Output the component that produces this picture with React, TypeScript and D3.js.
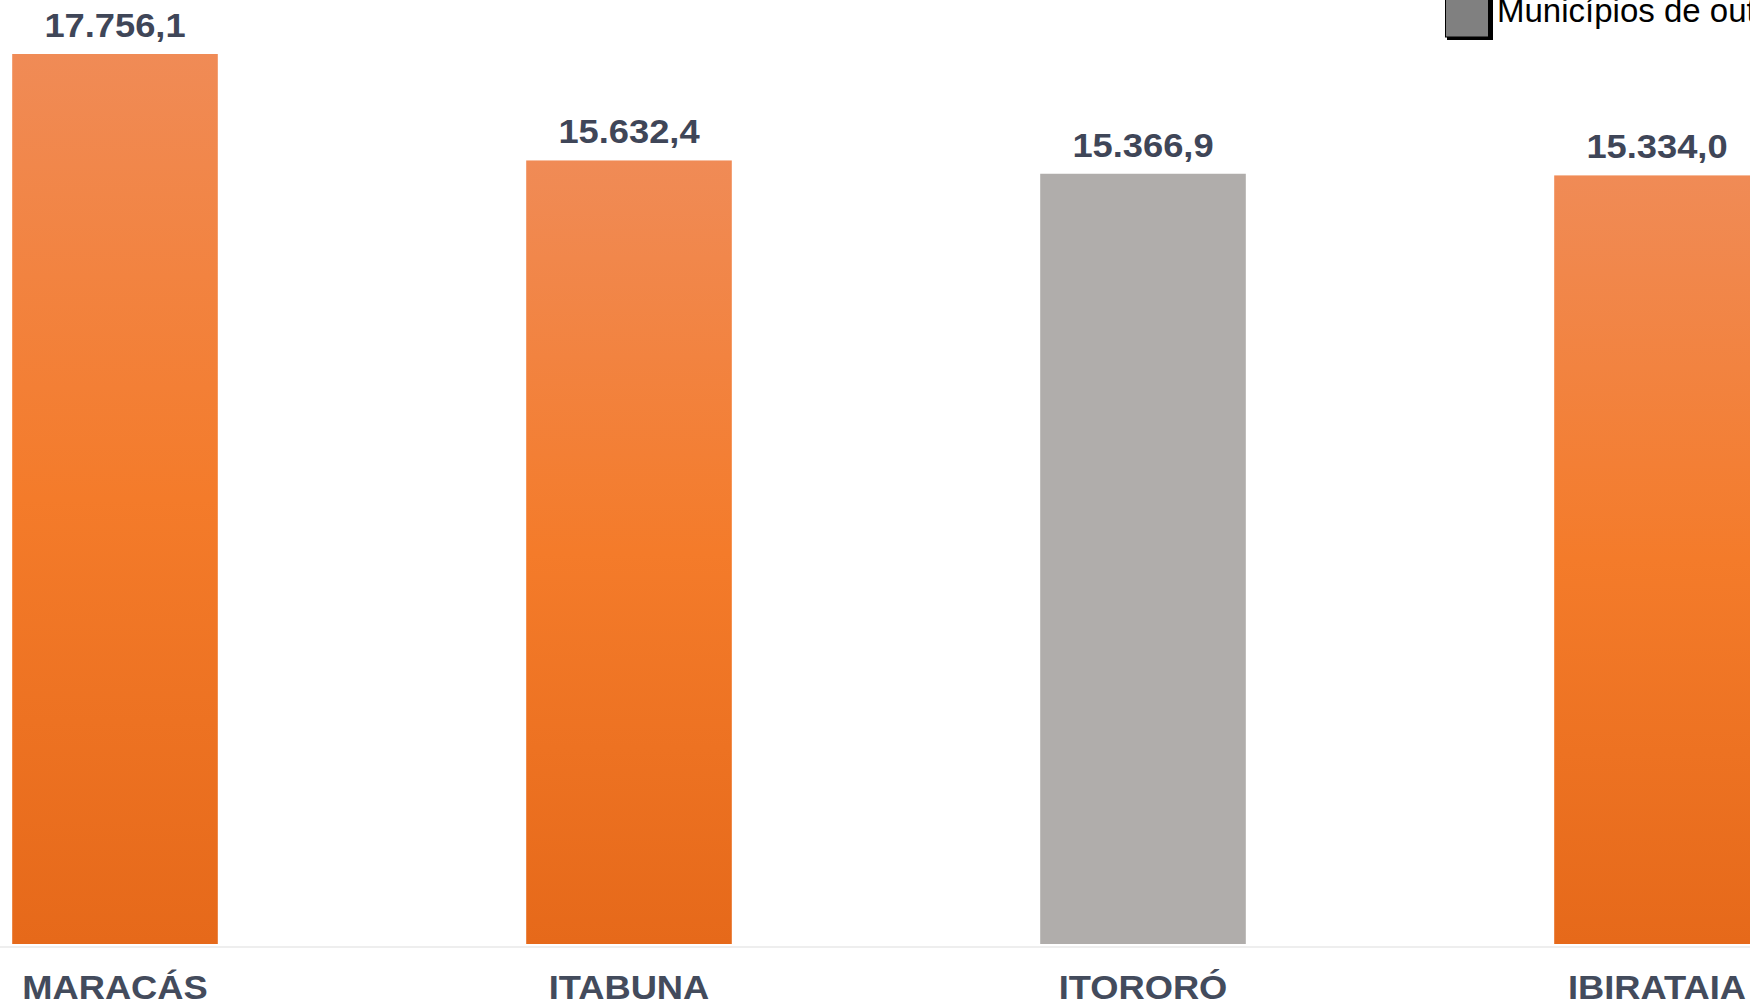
import React from "react";
import * as d3 from "d3";

const categories = ["MARACÁS", "ITABUNA", "ITORORÓ", "IBIRATAIA"];
const values = [17756.1, 15632.4, 15366.9, 15334.0];
const groups = ["orange", "orange", "gray", "orange"];
const legendLabel = "Municípios de outros estados";

const W = 1750;
const H = 1006;

const fmt = (v: number) => {
  const [int, dec] = v.toFixed(1).split(".");
  const intF = int.replace(/\B(?=(\d{3})+(?!\d))/g, ".");
  return `${intF},${dec}`;
};

export default function App() {
  const x = d3
    .scaleBand<string>()
    .domain(categories)
    .range([-142, 1914])
    .paddingInner(0.6)
    .paddingOuter(0.3);
  const y = d3.scaleLinear().domain([0, 17756.1]).range([944, 54]);

  return (
    <div style={{ position: "fixed", left: 0, top: 0 }}>
      <style>{`body{margin:0}`}</style>
      <svg width={W} height={H} style={{ display: "block", background: "#ffffff" }}>
        <defs>
          <linearGradient id="og" x1="0" y1="0" x2="0" y2="1">
            <stop offset="0%" stopColor="#f08b56" />
            <stop offset="50%" stopColor="#f47b2a" />
            <stop offset="100%" stopColor="#e6691a" />
          </linearGradient>
        </defs>
        <line x1={0} x2={W} y1={947} y2={947} stroke="#eeeeee" strokeWidth={2} />
        {categories.map((c, i) => {
          const bx = x(c)!;
          const bw = x.bandwidth();
          const by = y(values[i]);
          const cx = bx + bw / 2;
          return (
            <g key={c}>
              <rect
                x={bx}
                y={by}
                width={bw}
                height={y(0) - by}
                fill={groups[i] === "gray" ? "#b0adab" : "url(#og)"}
              />
              <text
                transform={`translate(${cx},${by - 17}) scale(1.1,1)`}
                textAnchor="middle"
                fontFamily="Liberation Sans, Arial, sans-serif"
                fontWeight="bold"
                fontSize={33}
                fill="#3f4658"
              >
                {fmt(values[i])}
              </text>
              <text
                transform={`translate(${cx},999) scale(1.1,1)`}
                textAnchor="middle"
                fontFamily="Liberation Sans, Arial, sans-serif"
                fontWeight="bold"
                fontSize={33}
                fill="#434b5c"
              >
                {c}
              </text>
            </g>
          );
        })}
        <g>
          <rect x={1447} y={-12} width={46} height={52} fill="#000000" />
          <rect x={1445.5} y={-13} width={43} height={50} fill="#808080" stroke="#000000" strokeWidth={1} />
          <text
            x={1497}
            y={22}
            fontFamily="Liberation Sans, Arial, sans-serif"
            fontSize={33}
            fill="#000000"
          >
            {legendLabel}
          </text>
        </g>
      </svg>
    </div>
  );
}
